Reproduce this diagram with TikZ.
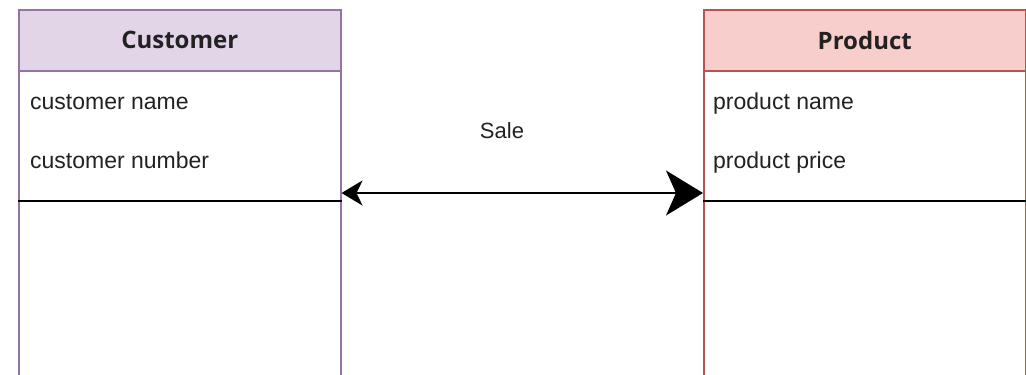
\documentclass[tikz,border=0pt]{standalone}
\usepackage{fontspec}
\setmainfont{Liberation Sans}
\newfontfamily\headfont{Open Sans}
\usetikzlibrary{arrows.meta}
\definecolor{purplefill}{HTML}{E1D5E7}
\definecolor{purpleline}{HTML}{9673A6}
\definecolor{redfill}{HTML}{F8CECC}
\definecolor{redline}{HTML}{B85450}
\definecolor{labeltext}{HTML}{222222}
\tikzset{
  header/.style={draw=#1, line width=1.5pt, minimum width=322pt, minimum height=61pt,
    inner sep=0pt, text=labeltext, font=\headfont\bfseries\fontsize{24}{30}\selectfont},
  classbody/.style={draw=#1, line width=1.5pt, fill=white, minimum width=322pt,
    minimum height=340pt, inner sep=0pt},
  attr/.style={anchor=base west, inner sep=0pt, text=labeltext, font=\fontsize{23}{28}\selectfont},
  divider/.style={line width=1.5pt, black},
  relation/.style={line width=1.8pt, black}
}
\begin{document}
\begin{tikzpicture}[x=1pt, y=-1pt]
  \useasboundingbox (0,0) rectangle (1026,375);
  \clip (0,0) rectangle (1026,375);

  % Customer class
  \node[classbody=purpleline, anchor=north west] (custbody) at (18,70) {};
  \node[header=purpleline, fill=purplefill, anchor=north west] (cust) at (18,9) {Customer};
  \node[attr] (cname) at (30,109) {customer name};
  \node[attr] (cnum) at (30,168) {customer number};
  \draw[divider] (custbody.west |- 0,201) -- (custbody.east |- 0,201);

  % Product class
  \node[classbody=redline, anchor=north west] (prodbody) at (703,70) {};
  \node[header=redline, fill=redfill, anchor=north west] (prod) at (703,9) {Product};
  \node[attr] (pname) at (713,109) {product name};
  \node[attr] (pprice) at (713,168) {product price};
  \draw[divider] (prodbody.west |- 0,201) -- (prodbody.east |- 0,201);

  % Sale association
  \coordinate (saleL) at (custbody.east |- 0,193);
  \coordinate (saleR) at (prodbody.west |- 0,193);
  \draw[relation, {Stealth[length=21pt, width=25pt, inset=6pt]}-{Stealth[length=37pt, width=45pt, inset=10pt]}]
    (saleL) -- (saleR);
  \node[text=labeltext, font=\fontsize{22}{26}\selectfont] (sale) at (502,131) {Sale};
\end{tikzpicture}
\end{document}
